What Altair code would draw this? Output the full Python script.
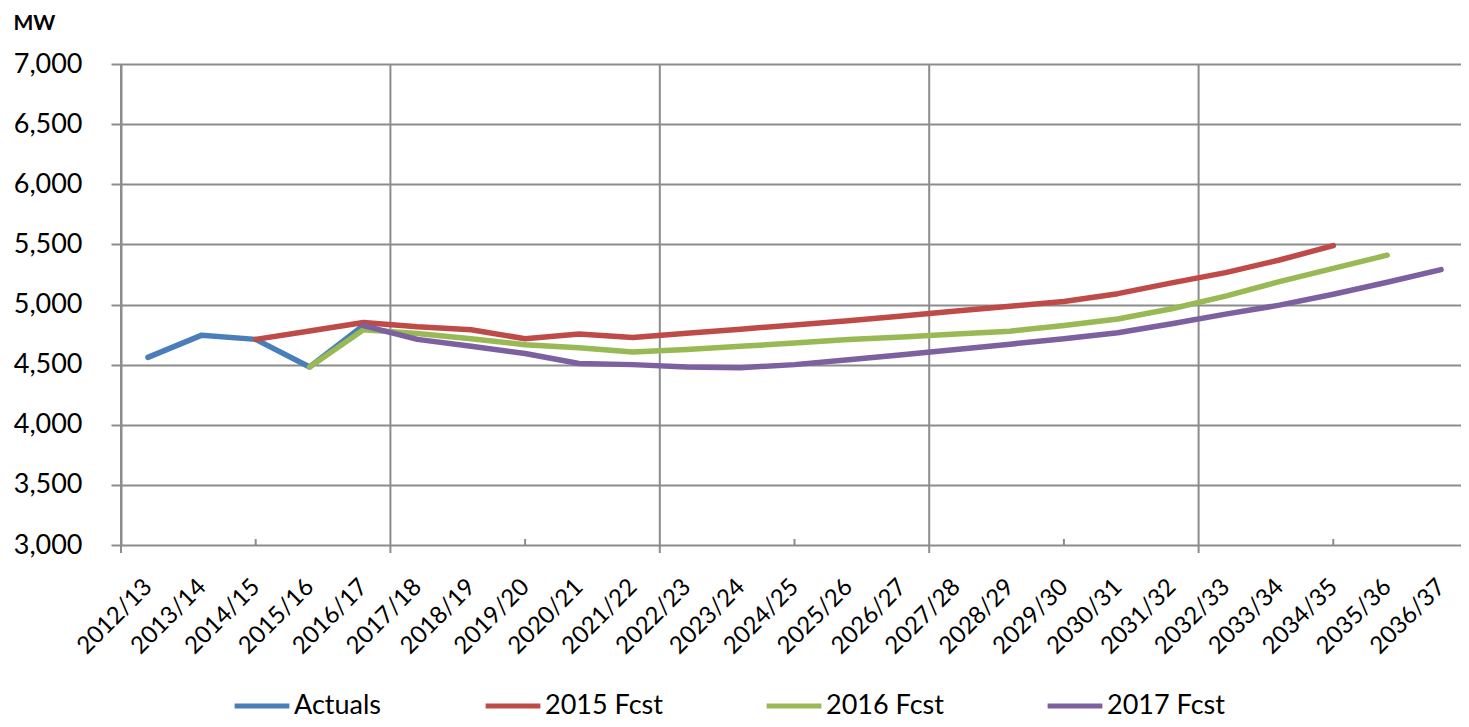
import altair as alt
import pandas as pd

# ---------------- data ----------------
categories = [
    "2012/13", "2013/14", "2014/15", "2015/16", "2016/17", "2017/18", "2018/19",
    "2019/20", "2020/21", "2021/22", "2022/23", "2023/24", "2024/25", "2025/26",
    "2026/27", "2027/28", "2028/29", "2029/30", "2030/31", "2031/32", "2032/33",
    "2033/34", "2034/35", "2035/36", "2036/37",
]
series_names = ["Actuals", "2015 Fcst", "2016 Fcst", "2017 Fcst"]
series_colors = ["#4A7EBB", "#BE4B48", "#98B954", "#7D60A0"]

actuals = [4560, 4745, 4710, 4480, 4825] + [None] * 20
fcst_2015 = [None, None,
             4710, 4780, 4850, 4815, 4790, 4715, 4755, 4725, 4760, 4795, 4830,
             4865, 4905, 4945, 4985, 5025, 5090, 5180, 5265, 5370, 5490,
             None, None]
fcst_2016 = [None, None, None,
             4480, 4790, 4758, 4716, 4665, 4640, 4605, 4625, 4652, 4680, 4708,
             4730, 4755, 4778, 4825, 4880, 4965, 5070, 5190, 5300, 5410,
             None]
fcst_2017 = [None, None, None, None,
             4825, 4710, 4652, 4592, 4510, 4500, 4480, 4475, 4500, 4540, 4582,
             4625, 4670, 4715, 4765, 4840, 4920, 4995, 5085, 5185, 5290]

y_ticks = [3000, 3500, 4000, 4500, 5000, 5500, 6000, 6500, 7000]
grid_edges = [0, 5, 10, 15, 20, 25]          # category-band edges carrying a gridline
minor_tick_cats = ["2014/15", "2019/20", "2024/25", "2029/30", "2034/35"]

series_values = [actuals, fcst_2015, fcst_2016, fcst_2017]
rows = []
for name, vals in zip(series_names, series_values):
    for cat, v in zip(categories, vals):
        if v is not None:
            rows.append({"period": cat, "series": name, "mw": v})
df = pd.DataFrame(rows)

# ---------------- layout ----------------
PLOT_W, PLOT_H = 1347, 481
GRID = "#8C8C8C"
FONT = "Lato"

x_nom = alt.Scale(type="point", domain=categories, padding=0.5)

grid = alt.Chart(pd.DataFrame({"edge": grid_edges})).mark_rule(
    color=GRID, strokeWidth=2
).encode(
    x=alt.X("edge:Q", scale=alt.Scale(domain=[0, 25], nice=False, zero=False), axis=None),
    y=alt.value(0),
    y2=alt.value(PLOT_H + 8),
)

minor = alt.Chart(pd.DataFrame({"period": minor_tick_cats})).mark_rule(
    color=GRID, strokeWidth=2
).encode(
    x=alt.X("period:N", scale=x_nom, axis=None),
    y=alt.value(PLOT_H - 6),
    y2=alt.value(PLOT_H),
)

lines = alt.Chart(df).mark_line(
    strokeWidth=5.5, strokeCap="round", strokeJoin="round"
).encode(
    x=alt.X(
        "period:N", sort=categories, scale=x_nom,
        axis=alt.Axis(
            title=None, labelAngle=315, labelAlign="right", labelBaseline="middle",
            labelPadding=38, ticks=False, domain=False, grid=False,
            labelFont=FONT, labelFontSize=24, labelColor="#000000",
            labelOverlap=False,
        ),
    ),
    y=alt.Y(
        "mw:Q", scale=alt.Scale(domain=[3000, 7000], nice=False, zero=False),
        axis=alt.Axis(
            values=y_ticks, format=",.0f", grid=True, gridColor=GRID, gridWidth=2,
            tickSize=10, tickColor=GRID, tickWidth=2,
            domain=True, domainColor=GRID, domainWidth=2,
            labelFont=FONT, labelFontSize=27, labelColor="#000000", labelPadding=29,
            title="MW", titleAngle=0, titleAlign="left", titleBaseline="alphabetic",
            titleX=-108, titleY=-35, titleFont=FONT, titleFontSize=21,
            titleFontWeight="bold", titleColor="#000000",
        ),
    ),
    color=alt.Color(
        "series:N",
        scale=alt.Scale(domain=series_names, range=series_colors),
        legend=alt.Legend(
            title=None, orient="none", direction="horizontal", columns=4,
            legendX=111, legendY=612,
            symbolType="stroke", symbolStrokeWidth=5, symbolSize=3000,
            labelFont=FONT, labelFontSize=27, labelColor="#000000",
            columnPadding=93, labelOffset=2,
        ),
    ),
)

chart = alt.layer(grid, minor, lines).resolve_scale(x="independent").properties(
    width=PLOT_W,
    height=PLOT_H,
    title=alt.TitleParams(
        "Gross Total Peak Net of DSM", font=FONT, fontSize=44, fontWeight="bold",
        color="#000000", anchor="middle", offset=20,
    ),
    padding={"left": 113, "top": 56, "right": -7, "bottom": 174},
    autosize=alt.AutoSizeParams(type="none"),
).configure_view(stroke=None).configure(background="#FFFFFF")

chart.save("out.html", embed_options={"renderer": "svg", "actions": False})
